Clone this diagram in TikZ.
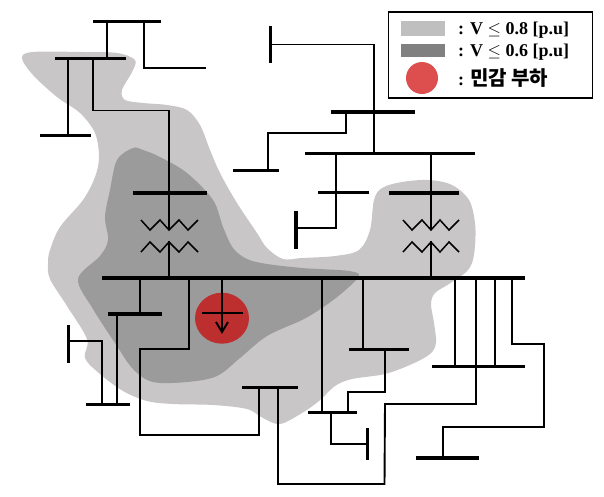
\documentclass[tikz,border=0pt]{standalone}
\usepackage{fontspec}
\usetikzlibrary{shapes.geometric}
\setmainfont{Liberation Serif}
\newfontfamily\cjk{Noto Sans CJK KR}
\definecolor{lightreg}{HTML}{C8C6C7}
\definecolor{darkreg}{HTML}{9B9B9B}
\definecolor{loadred}{HTML}{BC2F2E}
\definecolor{legendred}{HTML}{DD4F4F}
\begin{document}
\begin{tikzpicture}[x=1pt,y=-1pt,
  hbus/.style={fill=black,inner sep=0pt,minimum height=3.6pt,draw=none,rectangle},
  vbus/.style={fill=black,inner sep=0pt,minimum width=3.6pt,draw=none,rectangle},
  wire/.style={draw=black,line width=1.9pt,line join=miter},
  coil/.style={draw=black,line width=1.5pt},
  legendtext/.style={anchor=base west,inner sep=0pt,font=\bfseries\fontsize{18}{18}\selectfont}]
\useasboundingbox (0,0) rectangle (604,496);
\fill[lightreg] plot[smooth cycle,tension=0.55] coordinates {(22,58)(33,52)(83,52)(117,53)(135,60)(132,72)(122,90)(125,100)(143,103)(167,105)(187,110)(200,125)(210,150)(220,173)(237,203)(257,233)(267,248)(283,259)(302,258)(335,256)(359,250)(370,230)(374,200)(382,188)(402,182)(429,180)(452,185)(469,200)(475,223)(475,246)(472,263)(465,273)(449,284)(435,293)(431,304)(434,323)(436,343)(430,354)(412,364)(385,374)(352,379)(335,386)(319,401)(302,413)(280,424)(263,418)(247,409)(213,405)(173,404)(147,401)(123,391)(100,374)(85,358)(87,339)(67,306)(50,279)(48,263)(50,250)(60,227)(83,200)(95,177)(99,157)(95,133)(80,113)(57,97)(33,75)};
\fill[darkreg] plot[smooth cycle,tension=0.55] coordinates {(133,148)(117,160)(110,190)(105,217)(108,240)(100,256)(78,279)(93,309)(115,343)(133,369)(153,382)(187,382)(217,376)(240,358)(267,336)(302,320)(322,308)(342,293)(359,276)(349,271)(319,269)(302,268)(267,264)(247,259)(233,248)(223,227)(213,200)(187,173)(160,157)(143,150)};
% buses
\node[hbus,minimum width=68pt] (A) at (127,21.5) {};
\node[hbus,minimum width=71pt] (B) at (90.5,58.5) {};
\node[hbus,minimum width=50.5pt] (C) at (65.25,135.5) {};
\node[hbus,minimum width=74pt] (D) at (170,193) {};
\node[hbus,minimum width=423pt] (M) at (313.5,278) {};
\node[hbus,minimum width=70pt] (E) at (424,193) {};
\node[hbus,minimum width=170pt] (F) at (390,153.3) {};
\node[hbus,minimum width=84pt] (G) at (373,112) {};
\node[vbus,minimum height=37pt] (H) at (270.5,44.5) {};
\node[hbus,minimum width=46pt] (I) at (256,170.5) {};
\node[hbus,minimum width=51pt] (J) at (343.75,192.5) {};
\node[vbus,minimum height=38pt] (K) at (296,230) {};
\node[hbus,minimum width=54pt] (L) at (134.5,313.7) {};
\node[hbus,minimum width=44.5pt] (MM) at (107.75,404.5) {};
\node[vbus,minimum height=38pt] (N) at (68.5,344) {};
\node[hbus,minimum width=56pt] (O) at (269.5,387.5) {};
\node[hbus,minimum width=93.5pt] (P) at (478.25,366.5) {};
\node[hbus,minimum width=62.5pt] (Q) at (447.25,458) {};
\node[hbus,minimum width=49.5pt] (R) at (332.25,412.5) {};
\node[vbus,minimum height=32pt] (S) at (367.5,444) {};
\node[hbus,minimum width=60.5pt] (T) at (378.75,349.5) {};
% free ends
\coordinate (free1) at (206,68);
% wires
\draw[wire] (107,0 |- A) -- (107,0 |- B);
\draw[wire] (144,0 |- A) |- (free1);
\draw[wire] (68,0 |- B) -- (68,0 |- C);
\draw[wire] (93,0 |- B) |- (169,110.5) -- (169,0 |- D);
\draw[wire] (169,0 |- D) -- (169,230);
\draw[wire] (169,241) -- (169,0 |- M);
\draw[coil] (141,220)--(150,230)--(160,220)--(169,230)--(179,220)--(188,230)--(198,220);
\draw[coil] (141,252)--(150,242)--(160,252)--(169,242)--(179,252)--(188,242)--(198,252);
\draw[wire] (431,0 |- F) -- (431,230);
\draw[wire] (431,241) -- (431,0 |- M);
\draw[coil] (403,220)--(412,230)--(422,220)--(431,230)--(440,220)--(449,230)--(459,220);
\draw[coil] (403,252)--(412,242)--(422,252)--(431,242)--(440,252)--(449,242)--(459,252);
\draw[wire] (374,0 |- F) -- (374,44.5) -- (H.center);
\draw[wire] (346,0 |- G) -- (346,133) -- (268,133) -- (268,0 |- I);
\draw[wire] (336,0 |- F) -- (336,228) -- (296,228);
\draw[wire] (140,0 |- M) -- (140,0 |- L);
\draw[wire] (117,0 |- L) -- (117,0 |- MM);
\draw[wire] (102,0 |- MM) -- (102,341) -- (68.5,341);
\draw[wire] (189,0 |- M) -- (189,349) -- (140,349) -- (140,435) -- (259,435) -- (259,0 |- O);
\draw[wire] (278,0 |- O) -- (278,484) -- (384.5,484) -- (385,404) -- (476,404) -- (476,0 |- M);
\draw[wire] (455,0 |- M) -- (455,0 |- P);
\draw[wire] (495,0 |- M) -- (495,0 |- P);
\draw[wire] (512,0 |- M) -- (512,344) -- (544,344) -- (544,427) -- (443,427) -- (443,0 |- Q);
\draw[wire] (322,0 |- M) -- (322,0 |- R);
\draw[wire] (331,0 |- R) -- (331,444) -- (367.5,444);
\draw[wire] (348,0 |- R) -- (348,392) -- (385,392) -- (385,0 |- T);
\draw[wire] (363,0 |- M) -- (363,0 |- T);
% sensitive load
\node[ellipse,fill=loadred,inner sep=0pt,minimum width=54pt,minimum height=51pt] (load) at (222,318.2) {};
\draw[wire] (222,0 |- M) -- (222,332);
\draw[wire] (202,313) -- (243,313);
\draw[wire] (216,322) -- (222,332) -- (228,322);
% legend
\node[draw=black,line width=1.8pt,fill=white,minimum width=204pt,minimum height=86pt,inner sep=0pt] (legend) at (490.5,55.2) {};
\node[fill=black!25,minimum width=44pt,minimum height=15pt,inner sep=0pt] (sw1) at (423,28.5) {};
\node[fill=black!50,minimum width=44pt,minimum height=13pt,inner sep=0pt] (sw2) at (423,50.5) {};
\node[circle,fill=legendred,minimum size=32pt,inner sep=0pt] (sw3) at (422,78) {};
\node[legendtext] (t1) at (458,34) {: V $\leq$ 0.8 [p.u]};
\node[legendtext] (t2) at (458,56.7) {: V $\leq$ 0.6 [p.u]};
\node[legendtext] (t3) at (458,85) {: {\cjk\fontsize{20}{20}\selectfont 민감 부하}};
\end{tikzpicture}
\end{document}
